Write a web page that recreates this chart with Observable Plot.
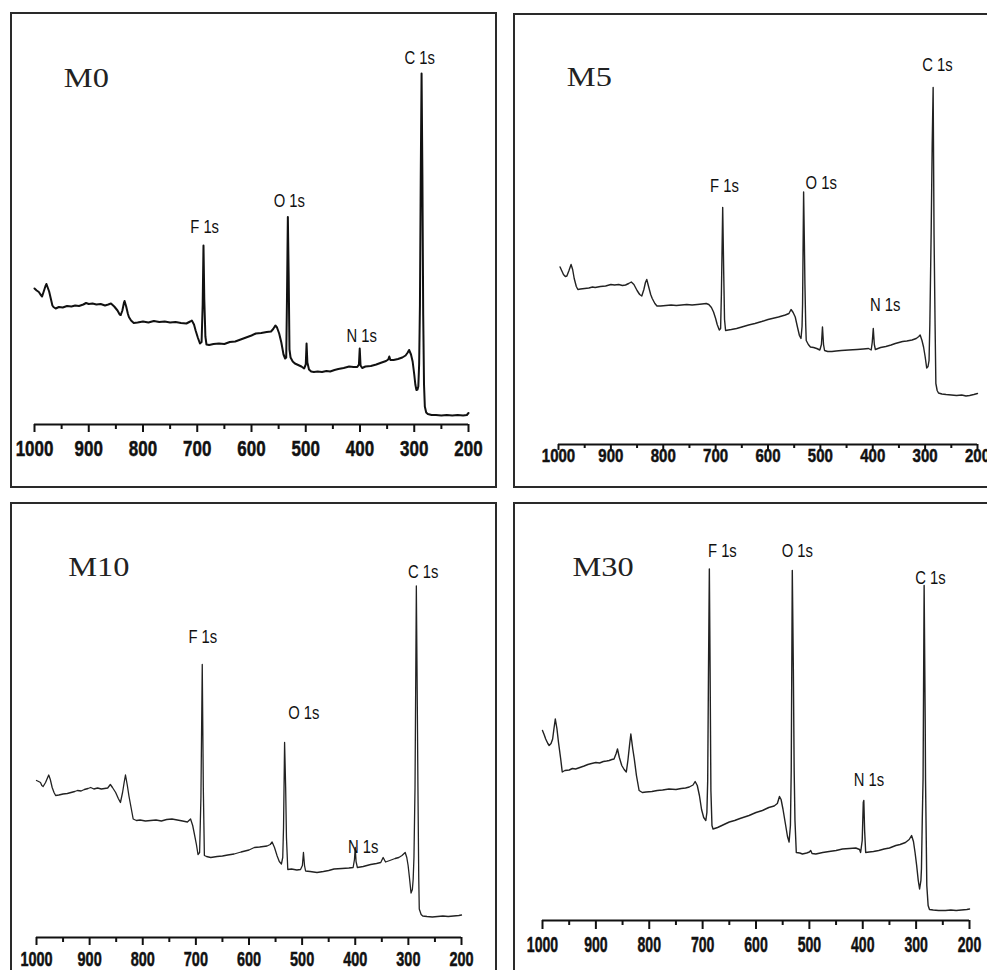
<!DOCTYPE html>
<html>
<head>
<meta charset="utf-8">
<script src="https://cdn.jsdelivr.net/npm/d3@7"></script>
<script src="https://cdn.jsdelivr.net/npm/@observablehq/plot@0.6"></script>
<style>
  html, body { margin: 0; padding: 0; background: #fff; }
  #fig { position: relative; width: 987px; height: 970px; overflow: hidden; background: #fff; }
  .box { position: absolute; box-sizing: border-box; border: 2px solid #2a2a2a; pointer-events: none; }
  .pl { position: absolute; }
</style>
</head>
<body>
<div id="fig"></div>
<script>
// ---- data (binding energy in eV, intensity in arbitrary units) ----
const energyTicks = [1000, 900, 800, 700, 600, 500, 400, 300, 200];
const minorTicks = [950, 850, 750, 650, 550, 450, 350, 250];
const sampleNames = ["M0", "M5", "M10", "M30"];

const m0Spectrum = [[1000,136],[996,134],[992,132.5],[989,130],[986,128],[983,133],[980,138],[978,140.5],[975,136],[973,133],[970,126],[967,119],[965,117.5],[961,116],[955,117.5],[948,117],[940,118.5],[932,118],[925,119],[918,118.5],[910,120],[905,121.5],[900,120.5],[893,121],[886,120],[878,120.5],[870,119],[864,120],[859,121],[853,118],[847,114],[843,110],[841,109.5],[838,114],[835,122],[834,123.5],[831,118],[828,111],[826,107.5],[822,104],[817,101.5],[810,102],[800,103],[790,102],[780,103.5],[770,102.5],[760,103],[750,102],[740,102.5],[730,101.5],[720,101],[713,103],[710,104],[706,100],[703,94],[699,87],[695,81],[692,82.5],[690,120],[688.5,179],[687,125],[685,88],[683,80],[678,79.5],[670,80.5],[660,81],[650,80.5],[640,82.5],[630,83],[620,85],[610,87],[600,89],[592,91],[582,91.5],[572,92.5],[564,93],[560,95.5],[556,99],[553,97],[549,91],[545,82],[541,70],[538,66],[536,67],[534.5,130],[533,207.5],[531.5,150],[530,75],[528,67],[524,63],[520,61],[514,59.5],[508,58],[503,56],[500,60],[498.5,81],[497,62],[494,55],[490,53],[485,52.5],[478,53],[470,52.5],[462,53.5],[455,53],[447,54.5],[440,55.5],[430,56.5],[420,58],[412,57.5],[405,57.5],[402,60],[400.5,76],[399,59],[396,56.5],[390,58],[380,58.5],[370,60],[360,62],[352,63.5],[348,65],[346,68],[344,64.5],[338,64.5],[330,65.5],[322,67],[316,69],[312,72],[309.5,74.5],[306,70],[303,63],[300,50],[298,40],[296,34.5],[294,35],[292.5,38],[291,60],[289.5,120],[288,250],[286.5,351],[285,250],[283.5,110],[282,40],[280.5,18],[278,12],[275,10.5],[268,9.5],[260,9.5],[250,9],[240,9.5],[230,9],[220,9.5],[210,9],[203,9.5],[200,11.5]];

const m5Spectrum = [[997,177.5],[994,174],[990.5,170],[987,168],[984,168.5],[980,174],[976,180],[973,175],[970,166],[966,158],[963,155],[958,155.5],[950,156],[942,156.5],[935,157.5],[930,157],[920,158],[910,158.5],[900,160],[893,159.5],[885,160],[878,159],[872,159.5],[866,161],[861,162.5],[856,160],[850,154],[845,150],[841,148.5],[837,155],[834,162],[831.5,165],[828,158],[824,150],[821,146],[816,141],[812,138.5],[805,138.5],[795,139],[785,139.5],[775,139],[765,139.5],[755,140],[745,139.5],[735,140],[726,140.5],[718,141],[713,140],[708,137],[704,132.5],[700,126],[697,120],[693,114.5],[690.5,116],[689,150],[686.5,237],[684.5,170],[683,125],[681,114],[676,114.5],[670,115],[660,116],[650,117.5],[637,119.5],[625,121],[612,123],[600,125],[592,126],[580,127.5],[567,129.5],[560,131],[556,135],[552,132],[548,127.5],[544,118],[540,109],[537,106],[535,118],[534,140],[532,252.5],[530.5,200],[529.5,160],[528,120],[527,104],[523,100],[519,97.5],[513,97],[507,96],[501,94.5],[498,100],[496,117.5],[494,100],[492,94],[486,93],[478,93],[470,93.5],[460,94],[446,94.5],[430,95],[418,95.5],[408,96],[403,94.5],[401,102],[399,116],[397,100],[395,95],[385,97],[375,98],[365,99.5],[357,101],[350,102],[343,103],[335,103.5],[325,104.5],[317,106],[312,108],[309.5,109.5],[306,104],[303,97.5],[300,88],[297,76.5],[294.5,78],[292.5,84],[291,120],[288.5,211],[286.5,300],[284.7,357],[283,211],[281,120],[279.5,61],[277,54],[274.5,51.5],[268,50.5],[260,50],[250,49.5],[240,49],[230,49.5],[222,48.5],[215,49],[207,50],[200,51]];

const m10Spectrum = [[1000,157],[996,156],[992.5,155],[990,152],[987.5,151],[983,155],[979,160],[977,162.5],[974,158],[970.5,150],[967,145],[964,142],[958,142.5],[950,143.5],[942,144],[935,145],[928,146],[923,147],[916,146.5],[910,148],[903,149],[898,150],[892,148.5],[885,149.5],[878,148.5],[872,149],[866,149.5],[861,153],[857,150],[851,145],[846,139],[842,135],[838,145],[835,155],[832.5,162.5],[829,152],[826,141.5],[822,130],[818,118.5],[812,117],[805,117.5],[795,116.5],[785,117],[775,117.5],[765,116.5],[755,118],[745,118.5],[735,117.5],[725,116.5],[716,115.5],[712,117.5],[710,118.5],[706,112],[703,104],[699,93],[696,83],[693,85],[690.5,140],[688,273],[686,150],[684,82],[680,81],[672,80],[660,81],[650,81.5],[640,82.5],[628,83.5],[615,85.5],[600,87.5],[590,90],[580,90.5],[566,91.5],[560,93],[556.5,95.5],[552,90],[547,81.5],[543,76],[539,73.5],[536.5,80],[535,110],[533,195],[531,150],[529.5,100],[527,68],[520,68.5],[510,67.5],[503,68],[499.5,72],[497.5,85],[495.5,72],[493.5,66.5],[485,66],[472,65],[460,66],[450,67],[440,68.5],[425,69],[412,69.5],[404,70],[401.5,78],[400,90],[398.5,76],[396,70],[385,71],[371,73],[360,74],[352,75],[347.5,80],[343,75.5],[335,77],[325,79],[318,80],[312,82],[306,85],[303,80],[300.5,72],[298,60],[295,44.5],[292.5,48],[291,58],[289.5,80],[287.5,150],[285,351.5],[283,220],[282,150],[280.5,60],[279.5,28.5],[276,23],[273,21.5],[265,21],[255,20.5],[245,21],[235,21.5],[225,21],[215,21.5],[205,22],[200,22.5]];

const m30Spectrum = [[1000,190],[997,186],[994,181.5],[990,177],[987.5,175],[984,177],[981,181.5],[978.5,192],[976,201.5],[973,192],[970,178],[966,162],[963,148.5],[958,150],[950,150.5],[944,152],[938,151.5],[930,153],[922,154.5],[915,156],[908,157],[900,158],[893,157.5],[886,159],[880,159.5],[875,160],[870,161],[866,161.5],[862,167],[859.5,171.5],[856,163],[851.5,155],[847,151],[843,148.5],[840,160],[837,175],[834.5,186.5],[831,172],[828,161.5],[824,145],[819,130],[813,128],[806,128.5],[795,129],[785,130],[775,130.5],[763,131.5],[750,131],[740,132],[732,132.5],[725,133.5],[718,135.5],[714,139],[710,135],[706,125],[702,111],[698,103],[694,100],[692,108],[690.5,140],[689,250],[687.4,351.5],[686,250],[684.5,130],[682.5,95],[680.5,91.5],[672,93],[660,96],[650,98.5],[640,100],[630,102],[613,105],[600,108],[588,110],[576,113],[566,114.5],[560,117],[556,124],[553,121],[549.5,111.5],[545,97],[541,84],[538,78.5],[535.5,95],[534,150],[532,350],[530,250],[528.5,150],[527,100],[524.5,68],[518,67.5],[513,66.5],[505,67.5],[500,68.5],[497.5,70],[495,67],[488,66.5],[475,68],[463,69],[450,70],[438,71.5],[425,72],[413,72.5],[406,71],[404,68],[401,80],[399,118],[398,120],[396.5,90],[394.5,68],[388,68.5],[380,69],[370,70],[360,71.5],[350,72.5],[338,75],[330,76],[320,78],[313,81],[308.5,85],[305,79],[302,68],[299,55],[296,40],[293.5,31.5],[291,40],[290,52],[288.5,100],[287,141.5],[285,335],[283,200],[282.4,141.5],[281,80],[280,35],[277.5,15],[275,11],[268,10.5],[258,10],[245,10],[235,10.5],[225,10],[215,10.5],[205,11],[200,11.5]];

// peak labels: [text, energy, intensity]
const m0Peaks = [["C 1s",289.8,367],["O 1s",530.2,223.3],["F 1s",686.4,197.7],["N 1s",396.8,88.3]];
const m5Peaks = [["C 1s",276.4,379.3],["O 1s",498.5,261.7],["F 1s",683.1,258.7],["N 1s",376.3,139.3]];
const m10Peaks = [["C 1s",272.1,365.7],["F 1s",686.9,301],["O 1s",496.7,224.3],["N 1s",385,91]];
const m30Peaks = [["F 1s",663,370],["O 1s",522.6,370],["C 1s",273,342.3],["N 1s",388.5,140.7]];

const spectra = [m0Spectrum, m5Spectrum, m10Spectrum, m30Spectrum];
const peakLabels = [m0Peaks, m5Peaks, m10Peaks, m30Peaks];

// ---- layout (page pixels) ----
const layout = [
  {left:10, top:12, right:497, bottom:488, x1000:34, x200:468, axisY:424, tickFont:22, tickScale:0.77, tickSize:8, tickPad:8, minor:5, lineWidth:2, stroke:"#111", nameAt:[945.9,346]},
  {left:513, top:13, right:1005, bottom:488, x1000:558, x200:977, axisY:444, tickFont:19, tickScale:0.79, tickSize:6, tickPad:-2, minor:4, lineWidth:1.4, stroke:"#222", nameAt:[984.1,367]},
  {left:10, top:502, right:497, bottom:995, x1000:36, x200:461, axisY:937, tickFont:21, tickScale:0.69, tickSize:8, tickPad:6, minor:5, lineWidth:1.3, stroke:"#222", nameAt:[940.4,370]},
  {left:513, top:502, right:1005, bottom:995, x1000:542, x200:969, axisY:920, tickFont:22, tickScale:0.64, tickSize:9, tickPad:7, minor:5, lineWidth:1.4, stroke:"#222", nameAt:[943.8,353.3]}
];

const sans = "'Liberation Sans', Arial, sans-serif";
const serif = "'Liberation Serif', 'Times New Roman', serif";
const fig = document.getElementById("fig");

function squeeze(sel, sx) {
  sel.each(function() {
    const t = this.getAttribute("transform") || "";
    this.setAttribute("transform", t + " scale(" + sx + ",1)");
  });
}

layout.forEach((cfg, i) => {
  const W = cfg.right - cfg.left, H = cfg.bottom - cfg.top;
  const name = sampleNames[i];
  const plot = Plot.plot({
    width: W,
    height: H,
    marginLeft: cfg.x1000 - cfg.left,
    marginRight: cfg.right - cfg.x200,
    marginTop: 0,
    marginBottom: cfg.bottom - cfg.axisY,
    x: {domain: [1000, 200], axis: null},
    y: {domain: [0, cfg.axisY - cfg.top], axis: null},
    style: {background: "transparent", overflow: "visible", color: "#111", fontFamily: sans, fontSize: cfg.tickFont + "px", fontWeight: "bold"},
    marks: [
      Plot.axisX(minorTicks, {tickSize: cfg.minor, tickFormat: () => "", strokeWidth: 2, label: null}),
      Plot.axisX(energyTicks, {tickSize: cfg.tickSize, tickPadding: cfg.tickPad, strokeWidth: 2, label: null, tickFormat: d => String(d)}),
      Plot.ruleY([0], {stroke: "#111", strokeWidth: 2}),
      Plot.line(spectra[i], {x: d => d[0], y: d => d[1], stroke: cfg.stroke, strokeWidth: cfg.lineWidth, strokeLinejoin: "round"}),
      Plot.text(peakLabels[i], {x: d => d[1], y: d => d[2], text: d => d[0], fontSize: 19, fontWeight: "normal", fontFamily: sans, fill: "#111"}),
      Plot.text([name], {x: cfg.nameAt[0], y: cfg.nameAt[1], text: d => d, textAnchor: "start", fontFamily: serif, fontSize: 27, fontWeight: "normal", fill: "#222"})
    ]
  });
  plot.classList.add("pl");
  plot.style.left = cfg.left + "px";
  plot.style.top = cfg.top + "px";
  const s = d3.select(plot);
  const tickText = s.selectAll('g[aria-label="x-axis tick label"] text');
  squeeze(tickText, cfg.tickScale);
  tickText.attr("stroke", "#111").attr("stroke-width", 0.5);
  const peakNames = new Set(peakLabels[i].map(d => d[0]));
  squeeze(s.selectAll("text").filter(function() { return peakNames.has(this.textContent); }), 0.78);
  squeeze(s.selectAll("text").filter(function() { return this.textContent === name; }), 1.2);
  fig.appendChild(plot);
  const box = document.createElement("div");
  box.className = "box";
  box.style.left = cfg.left + "px";
  box.style.top = cfg.top + "px";
  box.style.width = W + "px";
  box.style.height = H + "px";
  fig.appendChild(box);
});
</script>
</body>
</html>
